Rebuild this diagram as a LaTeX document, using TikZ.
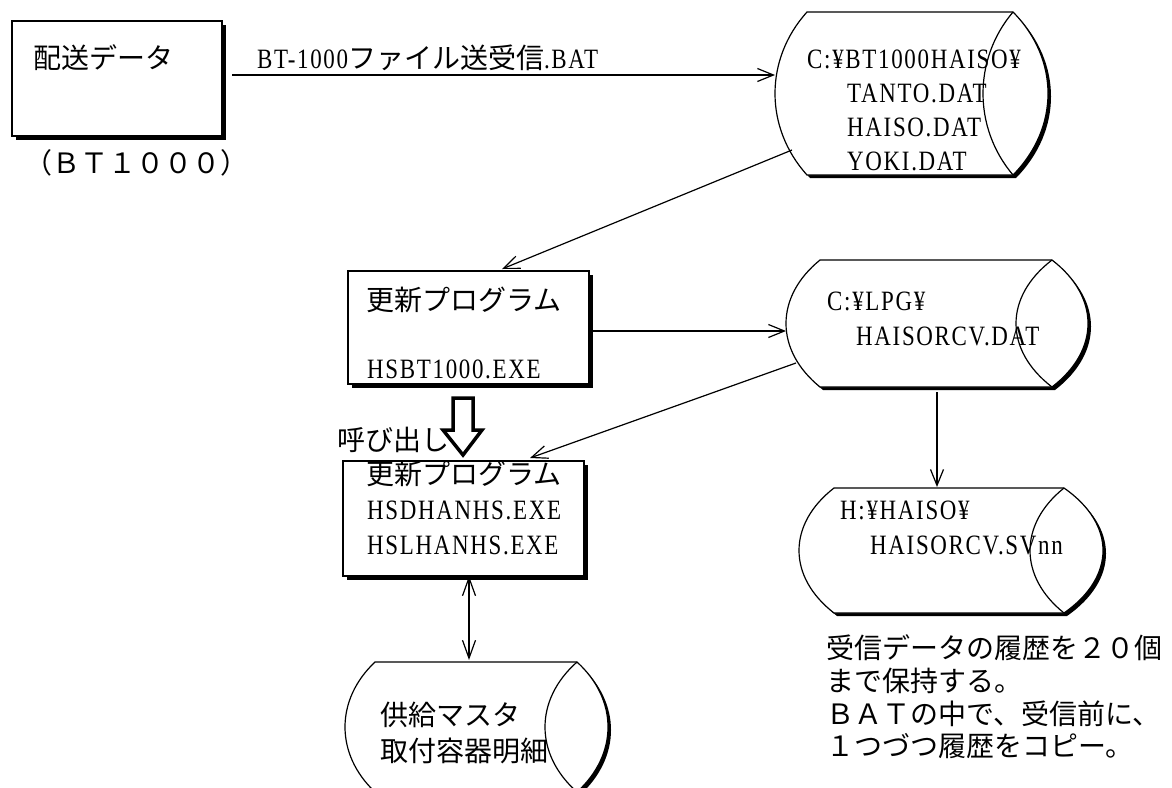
\documentclass[tikz,border=0pt]{standalone}
\usepackage{fontspec}
\setmainfont{Noto Sans CJK JP}
\newfontfamily\lat[FakeStretch=0.82,LetterSpace=6]{Liberation Serif}
\usetikzlibrary{arrows.meta,shadows}
\tikzset{
  box/.style={draw, line width=1.6pt, fill=white, anchor=north west, inner sep=0pt,
    drop shadow={shadow xshift=4pt, shadow yshift=-4pt, fill=black, opacity=1}},
  arr/.style={line width=1.2pt, -{Straight Barb[length=16pt,width=13pt]}},
  darr/.style={line width=1.2pt, {Straight Barb[length=18pt,width=13pt]}-{Straight Barb[length=18pt,width=13pt]}},
  jp/.style={anchor=base west, inner sep=0pt, font=\fontsize{28}{33}\selectfont},
  la/.style={anchor=base west, inner sep=0pt, font=\fontsize{28}{33}\selectfont\lat},
  store/.style={line width=1.2pt},
  callarrow/.style={draw, line width=3.5pt, line join=miter, fill=white},
}
% data-store symbol: #1 left x, #2 top y, #3 right x, #4 bottom y, #5 left bulge, #6 outer right bulge, #7 inner right bulge
\newcommand\dstore[7]{%
  \fill[shift={(3,3)}] (#1,#2) -- (#3,#2)
    .. controls ({#3+4/3*#6},{#2+0.29*(#4-#2)}) and ({#3+4/3*#6},{#4-0.29*(#4-#2)}) .. (#3,#4)
    -- (#1,#4)
    .. controls ({#1-4/3*#5},{#4-0.29*(#4-#2)}) and ({#1-4/3*#5},{#2+0.29*(#4-#2)}) .. cycle;
  \filldraw[store, fill=white] (#1,#2) -- (#3,#2)
    .. controls ({#3+4/3*#6},{#2+0.29*(#4-#2)}) and ({#3+4/3*#6},{#4-0.29*(#4-#2)}) .. (#3,#4)
    -- (#1,#4)
    .. controls ({#1-4/3*#5},{#4-0.29*(#4-#2)}) and ({#1-4/3*#5},{#2+0.29*(#4-#2)}) .. cycle;
  \draw[store] (#3,#2)
    .. controls ({#3-4/3*#7},{#2+0.29*(#4-#2)}) and ({#3-4/3*#7},{#4-0.29*(#4-#2)}) .. (#3,#4);
}
\begin{document}
\begin{tikzpicture}[x=1pt,y=-1pt]
\useasboundingbox (0,0) rectangle (1172,787);
\fill[white] (0,0) rectangle (1172,787);

% boxes
\node[box, minimum width=210pt, minimum height=115pt] (b1) at (11,20) {};
\node[box, minimum width=241pt, minimum height=113pt] (b2) at (347,270) {};
\node[box, minimum width=241pt, minimum height=115pt] (b3) at (342,460) {};

% data stores
\dstore{807}{12}{1013}{175}{32}{35}{30}
\dstore{820}{260}{1052}{387}{34}{36}{36}
\dstore{834}{488}{1064}{613}{35}{39}{34}
\dstore{375}{662}{577}{792}{30}{31}{32}

% texts
\node[jp] (t1) at (33,68) {配送データ};
\node[jp] (t1b) at (24,173) {（ＢＴ１０００）};
\node[jp] (lab1) at (257,68) {{\lat BT-1000}ファイル送受信{\lat .BAT}};

\node[la] (s1a) at (807,68) {C:¥BT1000HAISO¥};
\node[la] (s1b) at (847,102) {TANTO.DAT};
\node[la] (s1c) at (847,136) {HAISO.DAT};
\node[la] (s1d) at (847,170) {YOKI.DAT};

\node[jp] (t2a) at (366,310) {更新プログラム};
\node[la] (t2b) at (367,378) {HSBT1000.EXE};

\node[la] (s2a) at (827,310) {C:¥LPG¥};
\node[la] (s2b) at (856,345) {HAISORCV.DAT};

\node[jp] (call) at (337,450) {呼び出し};

\node[jp] (t3a) at (366,484) {更新プログラム};
\node[la] (t3b) at (367,519) {HSDHANHS.EXE};
\node[la] (t3c) at (367,554) {HSLHANHS.EXE};

\node[la] (s3a) at (840,519) {H:¥HAISO¥};
\node[la] (s3b) at (870,554) {HAISORCV.SVnn};

\node[jp] (s4a) at (380,725) {供給マスタ};
\node[jp] (s4b) at (380,761) {取付容器明細};

\node[jp] (n1) at (826,658) {受信データの履歴を２０個};
\node[jp] (n2) at (826,691) {まで保持する。};
\node[jp] (n3) at (826,724) {ＢＡＴの中で、受信前に、};
\node[jp] (n4) at (826,756) {１つづつ履歴をコピー。};

% connector ends
\coordinate (b1out) at (232,75);
\coordinate (s1in) at (775,75);
\coordinate (s1out) at (792,150);
\coordinate (b2in) at (502,269);
\coordinate (b2out) at (593,331);
\coordinate (s2in) at (786,331);
\coordinate (s2out) at (796,363);
\coordinate (b3in) at (530,458);
\coordinate (s2bot) at (937,392);
\coordinate (s3in) at (937,487);
\coordinate (b3out) at (469,576);
\coordinate (s4in) at (469,660);

\draw[arr] (b1out) -- (s1in);
\draw[arr] (s1out) -- (b2in);
\draw[arr] (b2out) -- (s2in);
\draw[arr] (s2out) -- (b3in);
\draw[arr] (s2bot) -- (s3in);
\draw[darr] (b3out) -- (s4in);

% hollow call arrow from b2 to b3
\draw[callarrow] (453,398) -- (473,398) -- (473,430) -- (482,430) -- (463,455)
  -- (443,430) -- (453,430) -- cycle;
\end{tikzpicture}
\end{document}
